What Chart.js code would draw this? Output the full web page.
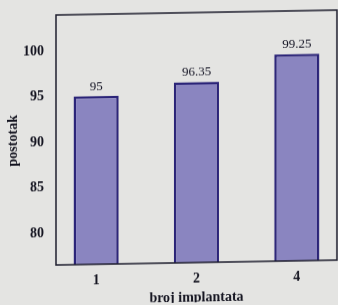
<!DOCTYPE html>
<html>
<head>
<meta charset="utf-8">
<script src="https://cdn.jsdelivr.net/npm/chart.js"></script>
<style>
  html, body { margin: 0; padding: 0; background: #e4e4e2; overflow: hidden; }
  #contenedor { width: 338px; height: 305px; transform: skewY(-1deg); transform-origin: 56px 0; }
</style>
</head>
<body>
<div id="contenedor"><canvas id="grafica"></canvas></div>
<script>
// datos
const etiquetas = ['1', '2', '4'];
const posiciones = [1, 2, 3];
const valores = [95, 96.35, 99.25];
const ticksY = [80, 85, 90, 95, 100];

document.addEventListener("DOMContentLoaded", function() {
    const ctx = document.getElementById('grafica').getContext('2d');

    // marco alrededor del area de la grafica
    const marco = {
        id: 'marco',
        afterDraw(chart) {
            const a = chart.chartArea;
            const c = chart.ctx;
            c.save();
            c.strokeStyle = '#1e1e2e';
            c.lineWidth = 1.5;
            c.strokeRect(a.left, a.top, a.right - a.left, a.bottom - a.top);
            c.restore();
        }
    };

    // valores encima de cada barra
    const valoresBarras = {
        id: 'valoresBarras',
        afterDatasetsDraw(chart) {
            const c = chart.ctx;
            const meta = chart.getDatasetMeta(0);
            c.save();
            c.font = '13px "Liberation Serif"';
            c.fillStyle = '#101020';
            c.textAlign = 'center';
            c.textBaseline = 'bottom';
            meta.data.forEach((bar, i) => {
                c.fillText(String(valores[i]), bar.x, bar.y - 3);
            });
            c.restore();
        }
    };

    new Chart(ctx, {
        type: 'bar',
        data: {
            datasets: [{
                data: posiciones.map((x, i) => ({ x: x, y: valores[i] })),
                backgroundColor: '#8a85c0',
                borderColor: '#2b2478',
                borderWidth: 2.5,
                borderSkipped: false,
                barPercentage: 0.45,
                categoryPercentage: 1
            }]
        },
        options: {
            responsive: true,
            maintainAspectRatio: false,
            animation: false,
            layout: { padding: { top: 15, right: 1, left: 0, bottom: 0 } },
            plugins: {
                legend: { display: false },
                tooltip: { enabled: false }
            },
            scales: {
                x: {
                    type: 'linear',
                    min: 0.6,
                    max: 3.4,
                    offset: false,
                    grid: { display: false, offset: false },
                    border: { display: false },
                    afterBuildTicks: scale => { scale.ticks = posiciones.map(v => ({ value: v })); },
                    afterFit: scale => { scale.height = 40; },
                    ticks: {
                        padding: 0,
                        color: '#141420',
                        font: { family: 'Liberation Serif', size: 14, weight: 'bold' },
                        callback: (value, index) => etiquetas[index]
                    },
                    title: {
                        display: true,
                        text: 'broj implantata',
                        color: '#141420',
                        padding: { top: 0, bottom: -2 },
                        font: { family: 'Liberation Serif', size: 14, weight: 'bold', lineHeight: 1 }
                    }
                },
                y: {
                    min: 76.5,
                    max: 104,
                    grid: { display: false },
                    border: { display: false },
                    afterBuildTicks: scale => { scale.ticks = ticksY.map(v => ({ value: v })); },
                    afterFit: scale => { scale.width = 56; },
                    ticks: {
                        padding: 4,
                        color: '#141420',
                        font: { family: 'Liberation Serif', size: 14, weight: 'bold' }
                    },
                    title: {
                        display: true,
                        text: 'postotak',
                        color: '#141420',
                        padding: { top: 5, bottom: 0 },
                        font: { family: 'Liberation Serif', size: 14, weight: 'bold' }
                    }
                }
            }
        },
        plugins: [marco, valoresBarras]
    });
});
</script>
</body>
</html>
